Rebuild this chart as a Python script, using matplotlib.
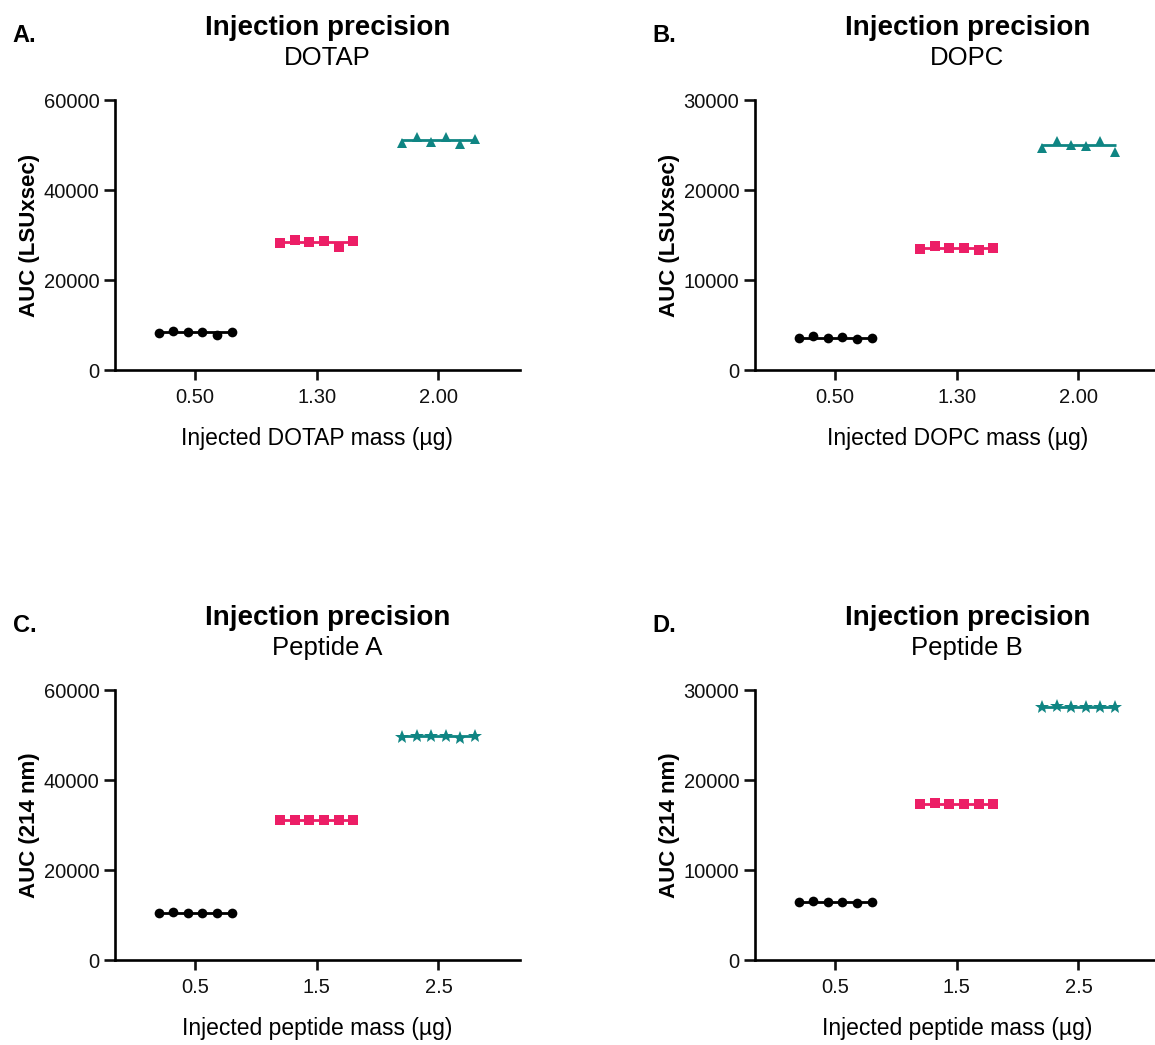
import numpy as np
import matplotlib
matplotlib.use("Agg")
import matplotlib.pyplot as plt

plt.rcParams['font.family'] = ['Liberation Sans', 'DejaVu Sans']

# panel A - DOTAP
dotap_labels = ["0.50", "1.30", "2.00"]
dotap_low = [8150, 8730, 8370, 8440, 7780, 8370]
dotap_mid = [28220, 28960, 28440, 28670, 27330, 28600]
dotap_high = [50520, 51850, 50740, 51700, 50150, 51330]

# panel B - DOPC
dopc_labels = ["0.50", "1.30", "2.00"]
dopc_low = [3590, 3740, 3590, 3670, 3480, 3590]
dopc_mid = [13410, 13740, 13520, 13590, 13370, 13590]
dopc_high = [24630, 25440, 24960, 24930, 25480, 24260]

# panel C - Peptide A
pepA_labels = ["0.5", "1.5", "2.5"]
pepA_low = [10550, 10600, 10550, 10550, 10500, 10550]
pepA_mid = [31150, 31200, 31150, 31150, 31100, 31150]
pepA_high = [49600, 49750, 49700, 49750, 49400, 49700]

# panel D - Peptide B
pepB_labels = ["0.5", "1.5", "2.5"]
pepB_low = [6430, 6610, 6430, 6460, 6350, 6430]
pepB_mid = [17350, 17430, 17350, 17350, 17280, 17350]
pepB_high = [28130, 28200, 28130, 28130, 28060, 28130]

colors = ["black", "#EC1E66", "#0F8583"]

W, H = 1155, 1045
fig = plt.figure(figsize=(W / 100, H / 100), dpi=100)


def px_axes(left, top, width, height):
    return fig.add_axes([left / W, 1 - (top + height) / H, width / W, height / H])


panels = [
    ("A.", "DOTAP", 114.7, 100, 60000, 20000, "AUC (LSUxsec)", "Injected DOTAP mass (µg)",
     dotap_labels, [dotap_low, dotap_mid, dotap_high], ["o", "s", "^"]),
    ("B.", "DOPC", 754.7, 100, 30000, 10000, "AUC (LSUxsec)", "Injected DOPC mass (µg)",
     dopc_labels, [dopc_low, dopc_mid, dopc_high], ["o", "s", "^"]),
    ("C.", "Peptide A", 114.7, 690, 60000, 20000, "AUC (214 nm)", "Injected peptide mass (µg)",
     pepA_labels, [pepA_low, pepA_mid, pepA_high], ["o", "s", "*"]),
    ("D.", "Peptide B", 754.7, 690, 30000, 10000, "AUC (214 nm)", "Injected peptide mass (µg)",
     pepB_labels, [pepB_low, pepB_mid, pepB_high], ["o", "s", "*"]),
]

offsets = np.linspace(-0.3, 0.3, 6)
msizes = {"o": 7, "s": 6.5, "^": 7.5, "*": 10}

for letter, sub, left, top, ymax, ystep, ylab, xlab, xlabels, groups, mks in panels:
    ax = px_axes(left, top, 405.3, 270)
    for i, vals in enumerate(groups):
        xc = i + 1
        ax.hlines(np.median(vals), xc - 0.31, xc + 0.31, color=colors[i], lw=2, zorder=2)
        ax.plot(xc + offsets, vals, linestyle="none", marker=mks[i], color=colors[i],
                markersize=msizes[mks[i]], markeredgewidth=0, zorder=3)
    ax.set_xlim(0.34, 3.67)
    ax.set_ylim(0, ymax)
    ax.set_yticks(np.arange(0, ymax + 1, ystep))
    ax.set_xticks([1, 2, 3])
    ax.set_xticklabels(xlabels)
    for s in ["top", "right"]:
        ax.spines[s].set_visible(False)
    for s in ["left", "bottom"]:
        ax.spines[s].set_linewidth(1.9)
    ax.tick_params(axis="y", length=8, width=1.9, labelsize=14.5, pad=3, colors="#111111")
    ax.tick_params(axis="x", length=7, width=1.9, labelsize=14.5, pad=6, colors="#111111")
    ax.set_ylabel(ylab, fontsize=16, fontweight="bold", labelpad=3)
    ax.set_xlabel(xlab, fontsize=16.5, labelpad=14)

    fig.text((left + 212.5) / W, 1 - (top - 65) / H, "Injection precision",
             fontsize=20, fontweight="bold", ha="center", va="baseline")
    fig.text((left + 212.5) / W, 1 - (top - 35) / H, sub,
             fontsize=18.5, ha="center", va="baseline")
    fig.text((left - 102) / W, 1 - (top - 58) / H, letter,
             fontsize=17, fontweight="bold", ha="left", va="baseline")

fig.savefig("out.png", dpi=100)
